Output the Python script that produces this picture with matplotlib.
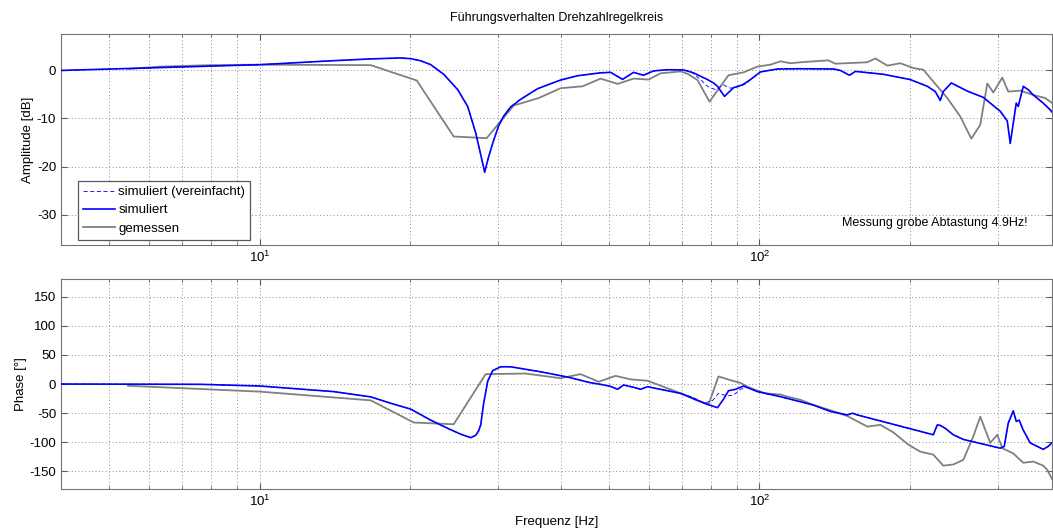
import numpy as np
import matplotlib
matplotlib.use("Agg")
import matplotlib.pyplot as plt
from matplotlib.ticker import LogLocator, NullFormatter

plt.rcParams['font.family'] = ['Liberation Sans', 'DejaVu Sans']
plt.rcParams['font.size'] = 9
plt.rcParams['axes.unicode_minus'] = False
plt.rcParams['mathtext.fontset'] = 'custom'
plt.rcParams['mathtext.rm'] = 'Liberation Sans'
plt.rcParams['mathtext.it'] = 'Liberation Sans:italic'

# simulated (full model) - amplitude
f_sim_amp = [4.0, 6.34, 10.0, 13.87, 16.67, 19.14, 20.04, 21.0, 21.98, 23.33, 24.89, 26.06, 27.04,
             27.67, 28.18, 28.71, 29.38, 30.06, 30.76, 31.77, 33.27, 35.97, 37.67, 39.99, 43.25,
             48.08, 50.35, 53.21, 55.98, 58.61, 61.38, 65.46, 70.47, 73.79, 78.70, 80.91, 82.41,
             85.11, 88.72, 92.47, 95.94, 100.5, 108.6, 120.8, 140.6, 145.2, 151.4, 155.6, 177.0,
             200.4, 216.8, 224.9, 230.1, 233.3, 237.7, 242.1, 260.6, 280.5, 303.4, 313.3, 317.7,
             323.6, 326.6, 329.6, 337.3, 345.1, 353.2, 369.8, 381.9, 387.3]
a_sim = [0.0, 0.6, 1.2, 2.0, 2.4, 2.6, 2.45, 2.0, 1.2, -0.8, -4.0, -7.5, -13.0,
         -17.5, -21.2, -17.9, -14.5, -11.5, -9.5, -7.6, -6.0, -3.8, -3.0, -2.0, -1.1,
         -0.5, -0.4, -1.85, -0.4, -1.0, -0.1, 0.15, 0.1, -0.5, -1.9, -2.6, -3.3,
         -5.4, -3.6, -3.0, -1.9, -0.3, 0.3, 0.35, 0.3, 0.0, -1.0, -0.2, -0.8,
         -1.9, -3.3, -4.4, -6.25, -4.4, -3.5, -2.6, -4.3, -5.6, -8.5, -10.5, -15.2,
         -9.6, -6.8, -7.5, -3.3, -4.0, -5.1, -6.8, -8.2, -9.0]

# simplified model only differs around 70..96 Hz
f_simp_amp_seg = [72.78, 76.21, 78.70, 81.66, 84.72, 87.50, 91.62, 94.62]
a_simp_seg = [-0.2, -1.9, -3.3, -4.0, -3.0, -3.7, -3.3, -2.6]

# measured - amplitude (coarse sampling)
f_meas_amp = [5.445, 6.339, 7.98, 10.0, 16.67, 20.61, 24.43, 28.44, 32.21, 36.14, 39.99, 44.26,
              48.08, 52.0, 55.98, 59.98, 63.39, 69.5, 71.78, 75.16, 79.43, 86.7, 92.9, 99.08,
              105.2, 110.2, 115.3, 120.8, 137.4, 141.9, 164.4, 170.6, 180.3, 191.4, 203.2, 212.8,
              222.8, 237.7, 252.4, 265.5, 276.7, 285.8, 293.8, 306.2, 314.8, 332.7, 353.2, 373.3,
              385.5]
a_meas = [0.3, 0.8, 1.1, 1.2, 1.1, -2.1, -13.75, -14.1, -7.3, -5.75, -3.7, -3.3,
          -1.7, -2.8, -1.7, -1.9, -0.6, -0.2, -0.7, -2.0, -6.5, -1.0, -0.4, 0.8,
          1.2, 1.9, 1.5, 1.7, 2.1, 1.4, 1.7, 2.5, 1.0, 1.5, 0.5, 0.15,
          -2.3, -5.75, -9.6, -14.2, -11.3, -2.7, -4.6, -1.5, -4.4, -4.2, -5.1, -5.75,
          -6.8]

# simulated - phase
f_sim_ph = [4.0, 7.62, 10.0, 14.06, 16.67, 18.28, 20.04, 21.98, 23.77, 25.23, 26.42, 27.04,
            27.42, 27.67, 28.05, 28.58, 29.24, 30.34, 31.77, 36.48, 41.30, 45.92, 48.08, 50.35,
            52.0, 53.46, 55.98, 57.81, 59.70, 69.50, 78.70, 82.41, 84.72, 86.70, 89.54, 92.90,
            99.08, 110.2, 128.2, 138.7, 150.0, 153.5, 157.0, 222.8, 227.0, 230.1, 235.5, 244.3,
            255.9, 303.4, 309.0, 314.8, 322.1, 326.6, 331.1, 337.3, 348.3, 369.8, 378.4, 387.3]
p_sim = [0.0, -0.5, -3.4, -13, -22, -33, -43, -62, -76, -86, -92, -88,
         -80, -70, -33, 5, 23, 29.6, 29.6, 21, 12, 2.2, -0.5, -4,
         -9, -1.7, -5.6, -9, -4.6, -16, -35, -40.5, -26, -11.5, -9, -3.4,
         -13, -21.7, -36, -47, -53, -50, -53, -87, -70, -71, -76, -87,
         -95, -110, -107, -67, -46, -64, -62, -79, -101, -112, -107, -99]

f_simp_ph_seg = [73.79, 77.27, 80.54, 82.79, 86.30, 88.72, 91.62, 94.62]
p_simp_seg = [-23, -33, -28.5, -16, -20.5, -19, -9, -5.6]

# measured - phase
f_meas_ph = [5.445, 10.0, 16.67, 20.32, 24.43, 28.31, 34.04, 39.99, 43.85, 47.64, 51.52, 55.21,
             59.70, 64.86, 71.12, 74.47, 79.07, 82.79, 88.31, 91.62, 94.62, 99.08, 102.8, 110.2,
             113.8, 120.8, 128.2, 138.7, 150.0, 164.4, 174.6, 185.4, 198.6, 209.9, 222.8, 233.3,
             244.3, 255.9, 267.9, 276.7, 289.7, 299.2, 306.2, 322.1, 337.3, 353.2, 369.8, 376.7,
             387.3]
p_meas = [-3, -13, -28, -66, -69, 17, 18, 10, 17, 4, 14, 8,
          5.6, -6, -19, -27, -35, 13, 5.6, 2, -4.6, -11.5, -16, -18,
          -21.7, -27, -36, -45, -55, -73, -70, -83, -104, -116, -121, -140,
          -138, -130, -90, -56, -101, -87, -110, -119, -135, -133, -140, -147,
          -167]


def splice(f_full, y_full, f_seg, y_seg, lo, hi):
    # replace the part of the full model between lo and hi with the segment
    f_full = np.array(f_full)
    y_full = np.array(y_full)
    left = f_full <= lo
    right = f_full >= hi
    f = np.concatenate([f_full[left], f_seg, f_full[right]])
    y = np.concatenate([y_full[left], y_seg, y_full[right]])
    return f, y


f_simp_amp, a_simp = splice(f_sim_amp, a_sim, f_simp_amp_seg, a_simp_seg, 70.47, 95.94)
f_simp_ph, p_simp = splice(f_sim_ph, p_sim, f_simp_ph_seg, p_simp_seg, 69.50, 99.08)

blue = '#0000ff'
grey = '#808080'


def style_axis(ax):
    ax.set_xscale('log')
    ax.set_xlim(4.0, 385)
    ax.xaxis.set_major_locator(LogLocator(base=10))
    ax.xaxis.set_minor_locator(LogLocator(base=10, subs=np.arange(2, 10)))
    ax.xaxis.set_minor_formatter(NullFormatter())
    ax.grid(True, which='major', axis='both', color='0.55', linestyle=(0, (1, 2.5)), linewidth=0.7)
    ax.grid(True, which='minor', axis='x', color='0.55', linestyle=(0, (1, 2.5)), linewidth=0.7)
    ax.tick_params(which='both', direction='in', top=True, right=True, colors='0.35',
                   labelcolor='black', labelsize=9.5)
    ax.tick_params(which='major', length=4)
    ax.tick_params(which='minor', length=2)
    for s in ax.spines.values():
        s.set_color('0.45')
    ax.set_axisbelow(True)


fig = plt.figure(figsize=(10.53, 5.30), dpi=100)

# amplitude
ax1 = fig.add_axes([0.058, 0.538, 0.941, 0.398])
ax1.plot(f_meas_amp, a_meas, color=grey, lw=1.3, zorder=2)
ax1.plot(f_simp_amp, a_simp, color=blue, lw=0.6, ls=(0, (5, 3)), zorder=3)
ax1.plot(f_sim_amp, a_sim, color=blue, lw=1.2, zorder=4)
style_axis(ax1)
ax1.set_ylim(-36.3, 7.6)
ax1.set_yticks([-30, -20, -10, 0])
ax1.set_ylabel('Amplitude [dB]', fontsize=9.5, labelpad=2)
ax1.set_title('Führungsverhalten Drehzahlregelkreis', fontsize=9, pad=9)
ax1.text(0.975, 0.104, 'Messung grobe Abtastung 4.9Hz!', transform=ax1.transAxes,
         ha='right', va='center', fontsize=9)

# legend with the same order as the original
h_simp, = ax1.plot([], [], color=blue, lw=0.6, ls=(0, (5, 3)))
h_sim, = ax1.plot([], [], color=blue, lw=1.2)
h_meas, = ax1.plot([], [], color=grey, lw=1.3)
leg = ax1.legend([h_simp, h_sim, h_meas], ['simuliert (vereinfacht)', 'simuliert', 'gemessen'],
                 loc='lower left', bbox_to_anchor=(0.017, 0.024), borderaxespad=0,
                 fancybox=False, framealpha=1, edgecolor='0.35', handlelength=2.4,
                 handletextpad=0.25, labelspacing=0.45, borderpad=0.4, fontsize=9.5)
leg.get_frame().set_linewidth(0.9)

# phase
ax2 = fig.add_axes([0.058, 0.0774, 0.941, 0.396])
ax2.plot(f_meas_ph, p_meas, color=grey, lw=1.3, zorder=2)
ax2.plot(f_simp_ph, p_simp, color=blue, lw=0.6, ls=(0, (5, 3)), zorder=3)
ax2.plot(f_sim_ph, p_sim, color=blue, lw=1.2, zorder=4)
style_axis(ax2)
ax2.set_ylim(-180, 180)
ax2.set_yticks([-150, -100, -50, 0, 50, 100, 150])
ax2.set_ylabel('Phase [°]', fontsize=9.5, labelpad=2)
ax2.set_xlabel('Frequenz [Hz]', fontsize=9.5, labelpad=5)

fig.savefig('out.png', dpi=100)
